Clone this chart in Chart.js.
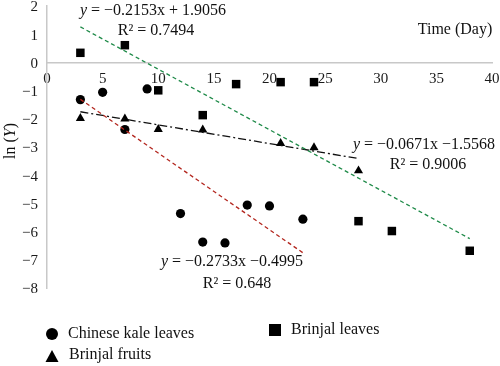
<!DOCTYPE html>
<html>
<head>
<meta charset="utf-8">
<script src="https://cdn.jsdelivr.net/npm/chart.js@4.4.1/dist/chart.umd.min.js"></script>
<style>
  html, body { margin: 0; padding: 0; background: #fff; }
  #wrap { width: 500px; height: 366px; }
</style>
</head>
<body>
<div id="wrap"><canvas id="lnChart" width="500" height="366"></canvas></div>
<script>
// measured points (day, ln Y)
const kaleDays = [3, 5, 7, 9, 12, 14, 16, 18, 20, 23];
const kaleLnY = [-1.32, -1.06, -2.38, -0.94, -5.36, -6.37, -6.40, -5.06, -5.09, -5.56];
const fruitDays = [3, 7, 10, 14, 21, 24, 28];
const fruitLnY = [-1.98, -2.0, -2.37, -2.39, -2.87, -3.02, -3.84];
const leafDays = [3, 7, 10, 14, 17, 21, 24, 28, 31, 38];
const leafLnY = [0.34, 0.61, -0.99, -1.87, -0.77, -0.70, -0.70, -5.63, -5.98, -6.68];

// trend line ends
const leafTrendDays = [3, 38];
const leafTrendLnY = [1.26, -6.25];
const kaleTrendDays = [3, 23];
const kaleTrendLnY = [-1.31, -6.75];
const fruitTrendDays = [3, 28];
const fruitTrendLnY = [-1.75, -3.41];

const seriesNames = ["Chinese kale leaves", "Brinjal fruits", "Brinjal leaves"];
const leafEq = ["y = \u22120.2153x + 1.9056", "R\u00b2 = 0.7494"];
const fruitEq = ["y = \u22120.0671x \u22121.5568", "R\u00b2 = 0.9006"];
const kaleEq = ["y = \u22120.2733x \u22120.4995", "R\u00b2 = 0.648"];
const xTitle = "Time (Day)";
const yTitle = "ln (Y)";

const serif = '"Liberation Serif", "DejaVu Serif", serif';
const pts = (xs, ys) => xs.map((x, i) => ({ x: x, y: ys[i] }));

// draws text centred on cx, with lone y / Y letters in italic
function richText(ctx, str, cx, cy, size) {
    const parts = str.split(/(\b[yY]\b)/).filter((s) => s.length);
    const fontFor = (s) => (/^[yY]$/.test(s) ? "italic " : "") + size + "px " + serif;
    let total = 0;
    parts.forEach((s) => {
        ctx.font = fontFor(s);
        total += ctx.measureText(s).width;
    });
    let x = cx - total / 2;
    ctx.textAlign = "left";
    parts.forEach((s) => {
        ctx.font = fontFor(s);
        ctx.fillText(s, x, cy);
        x += ctx.measureText(s).width;
    });
}

const annotate = {
    id: "annotate",
    afterDraw(chart) {
        const ctx = chart.ctx;
        ctx.save();
        ctx.fillStyle = "#111";
        ctx.textBaseline = "middle";

        richText(ctx, leafEq[0], 153, 11, 16);
        richText(ctx, leafEq[1], 156, 31, 16);
        richText(ctx, fruitEq[0], 424, 145, 16);
        richText(ctx, fruitEq[1], 428, 165, 16);
        richText(ctx, kaleEq[0], 232, 262, 16);
        richText(ctx, kaleEq[1], 237, 284, 16);

        ctx.font = "16px " + serif;
        ctx.textAlign = "center";
        ctx.fillText(xTitle, 455, 30);

        ctx.save();
        ctx.translate(11, 141);
        ctx.rotate(-Math.PI / 2);
        richText(ctx, yTitle, 0, 0, 16);
        ctx.restore();

        // legend
        ctx.fillStyle = "#000";
        ctx.beginPath();
        ctx.arc(52, 334, 6, 0, Math.PI * 2);
        ctx.fill();
        ctx.beginPath();
        ctx.moveTo(52, 350);
        ctx.lineTo(58.5, 362);
        ctx.lineTo(45.5, 362);
        ctx.closePath();
        ctx.fill();
        ctx.fillRect(269, 324, 12, 12);

        ctx.fillStyle = "#111";
        ctx.font = "16px " + serif;
        ctx.textAlign = "left";
        ctx.fillText(seriesNames[0], 68, 334);
        ctx.fillText(seriesNames[1], 69, 355);
        ctx.fillText(seriesNames[2], 291, 330);
        ctx.restore();
    },
};

const tickFont = { family: serif, size: 15 };

new Chart(document.getElementById("lnChart"), {
    type: "scatter",
    data: {
        datasets: [
            {
                label: "leaf trend",
                data: pts(leafTrendDays, leafTrendLnY),
                showLine: true,
                borderColor: "#1e8a48",
                borderWidth: 1.3,
                borderDash: [4, 3],
                pointRadius: 0,
            },
            {
                label: "kale trend",
                data: pts(kaleTrendDays, kaleTrendLnY),
                showLine: true,
                borderColor: "#b3261e",
                borderWidth: 1.3,
                borderDash: [4, 3],
                pointRadius: 0,
            },
            {
                label: "fruit trend",
                data: pts(fruitTrendDays, fruitTrendLnY),
                showLine: true,
                borderColor: "#111",
                borderWidth: 1.3,
                borderDash: [8, 3, 2, 3],
                pointRadius: 0,
            },
            {
                label: seriesNames[0],
                data: pts(kaleDays, kaleLnY),
                pointStyle: "circle",
                pointRadius: 4.6,
                backgroundColor: "#000",
                borderWidth: 0,
            },
            {
                label: seriesNames[1],
                data: pts(fruitDays, fruitLnY),
                pointStyle: "triangle",
                pointRadius: 5.3,
                backgroundColor: "#000",
                borderWidth: 0,
            },
            {
                label: seriesNames[2],
                data: pts(leafDays, leafLnY),
                pointStyle: "rect",
                pointRadius: 6,
                backgroundColor: "#000",
                borderWidth: 0,
            },
        ],
    },
    options: {
        responsive: false,
        animation: false,
        layout: { padding: { left: 0, right: 8, top: 6, bottom: 78 } },
        plugins: {
            legend: { display: false },
            tooltip: { enabled: false },
        },
        scales: {
            x: {
                type: "linear",
                min: 0,
                max: 40,
                position: { y: 0 },
                grid: { display: false, drawTicks: false },
                border: { display: true, color: "#c8c8c8", width: 1.5 },
                ticks: {
                    stepSize: 5,
                    padding: 8,
                    color: "#1a1a1a",
                    font: tickFont,
                    maxRotation: 0,
                    autoSkip: false,
                },
                afterFit: (s) => {
                    s.height = 0;
                    s.paddingLeft = 0;
                    s.paddingRight = 0;
                },
            },
            y: {
                min: -8,
                max: 2,
                grid: { display: false, drawTicks: false },
                border: { display: true, color: "#c8c8c8", width: 1.5 },
                ticks: {
                    stepSize: 1,
                    padding: 9,
                    labelOffset: 1.5,
                    color: "#1a1a1a",
                    font: tickFont,
                    callback: (v) => (v < 0 ? "\u2212" + Math.abs(v) : String(v)),
                },
                afterFit: (s) => {
                    s.width = 47;
                    s.paddingTop = 0;
                    s.paddingBottom = 0;
                },
            },
        },
    },
    plugins: [annotate],
});
</script>
</body>
</html>
